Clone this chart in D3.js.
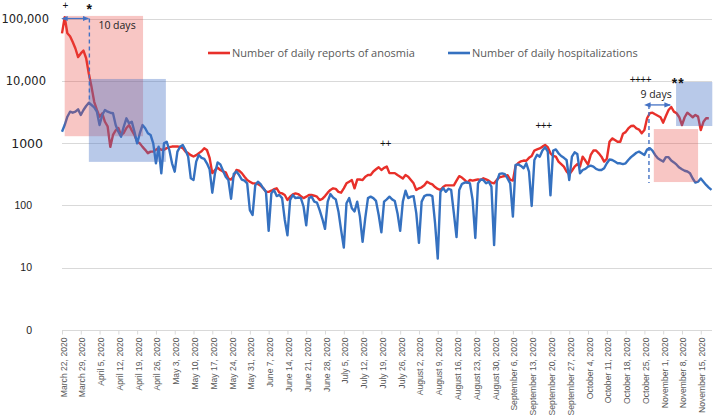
<!DOCTYPE html>
<html><head><meta charset="utf-8">
<script src="https://cdn.jsdelivr.net/npm/d3@7"></script>
<style>body{margin:0;background:#fff}svg{display:block}</style>
</head><body><svg id="c" width="714" height="417"></svg>
<script>
// ---------- DATA ----------
const startDate = "2020-03-22";           // first day of both series (daily values)
const anosmia = [
57800,105000,58000,52000,42000,33000,24000,27500,30500,23000,
13000,8000,4600,3400,2650,3000,2200,1850,870,1350,
1600,1750,1350,1450,1750,1950,1600,1350,1050,990,
870,780,690,730,730,780,830,780,780,830,
860,880,880,880,870,830,730,690,640,610,
640,690,740,825,775,580,330,370,405,370,
350,340,270,260,295,370,360,330,289,255,
240,226,226,220,207,188,165,165,172,182,
188,160,156,147,122,138,150,156,152,141,
131,138,147,147,143,138,122,127,141,160,
177,188,184,165,160,188,226,240,255,188,
260,260,255,289,307,307,350,380,410,370,
400,420,330,330,330,307,289,270,307,289,
255,226,177,188,195,210,240,226,217,197,
184,177,197,210,210,210,210,250,295,280,
256,232,256,250,256,262,256,272,262,250,
232,226,256,283,289,296,305,260,250,430,
480,510,525,520,580,620,760,790,820,877,
930,860,686,620,606,505,460,419,350,315,
360,419,460,419,606,525,450,645,760,760,
686,606,505,560,1050,1190,1120,1050,1050,1410,
1500,1720,1880,1900,1720,1650,1440,1620,2500,3010,
3080,2900,2750,2600,2130,2720,3400,3800,3200,3010,
2600,1950,2600,3080,2830,2600,2830,2660,1620,2200,
2500,2500
];
const hospitalizations = [
1520,1950,2650,3190,3075,3190,3480,2825,3400,3940,
4450,4090,3750,3190,1950,2825,3400,3190,3075,3010,
1950,1520,1270,1830,2500,2075,2210,1520,990,1440,
1950,1730,1440,1350,990,473,875,327,990,1054,
775,473,348,728,875,932,775,606,272,256,
504,644,580,560,473,380,160,330,490,455,
360,289,255,128,320,350,307,260,250,226,
84,70,210,240,220,188,165,39,156,177,
141,147,131,59,33,122,147,131,134,131,
96,48,131,138,115,111,84,61,42,115,
152,134,125,80,40,21,108,131,90,80,
115,66,26,63,131,138,131,118,70,37,
115,125,138,125,118,75,39,115,172,131,
138,141,75,25,115,141,147,147,141,52,
14,165,190,165,185,177,75,31,177,220,
232,235,226,122,30,226,260,256,226,240,
200,23,240,320,327,318,272,226,66,445,
455,430,395,473,350,98,536,650,606,760,
860,730,145,760,790,686,620,580,536,256,
606,710,670,327,370,385,419,435,419,385,
370,370,395,474,545,536,505,474,474,460,
474,536,595,645,700,730,686,645,790,830,
760,645,570,536,505,595,595,525,490,450,
405,380,360,350,327,270,232,240,270,240,
213,193,177
];
const seriesNames = ["Number of daily reports of anosmia", "Number of daily hospitalizations"];
const yTickValues = [1, 10, 100, 1000, 10000, 100000];
const yTickLabels = ["0", "10", "100", "1000", "10,000", "100,000"];
// shaded windows: day offsets from startDate and value bounds
const windowDays  = [[1, 30.2], [10, 38.7], [220.5, 237], [228.8, 242.3]];
const windowVals  = [[110000, 1290], [10700, 500], [1680, 237], [9570, 1880]];
const windowSeries = [0, 1, 0, 1];
// lag annotations: [fromDay, toDay], [value at arrow, value at dashed line bottom], label
const lagDays = [[1.5, 10.2], [218.7, 227]];
const lagVals = [[100000, 4900], [4100, 228]];
const lagLabels = ["10 days", "9 days"];
// significance markers: day offset, value position, text
const markDays = [1.2, 10.3, 120.5, 179.4, 215.5, 229.6];
const markVals = [142000, 120000, 850, 1715, 9060, 7700];
const markTexts = ["+", "*", "++", "+++", "++++", "**"];

// ---------- CHART ----------
const svg = d3.select("#c");
const parse = d3.utcParse("%Y-%m-%d");
const t0 = parse(startDate);
const day = i => new Date(t0.getTime() + i * 864e5);

const x = d3.scaleUtc().domain([t0, day(242)]).range([62, 711.5]);
const y = d3.scaleLog().domain([1, 100000]).range([330, 18.5]);
const colors = ["#E8302A", "#3571C0"];
const shade = ["#E9433B", "#4472C4"];

// gridlines
svg.append("g").selectAll("line").data(yTickValues).join("line")
  .attr("x1", 62).attr("x2", 712)
  .attr("y1", d => Math.round(y(d)) + 0.5).attr("y2", d => Math.round(y(d)) + 0.5)
  .attr("stroke", "#d9d9d9").attr("stroke-width", 1);

// y labels (as in original, sizes vary)
const ySizes = [10.5, 10.5, 10.5, 12.5, 11.5, 11.5];
const yRight = [32, 32, 32, 43, 46, 49];
const yFonts = ["Liberation Sans", "Liberation Sans", "Liberation Sans", "DejaVu Sans", "DejaVu Sans", "DejaVu Sans"];
svg.append("g").selectAll("text").data(yTickValues).join("text")
  .attr("x", (d, i) => yRight[i]).attr("y", d => y(d))
  .attr("dy", "0.36em").attr("text-anchor", "end")
  .style("font-family", (d, i) => yFonts[i]).style("font-size", (d, i) => ySizes[i] + "px")
  .attr("fill", "#222").text((d, i) => yTickLabels[i]);

// x axis
const weekTicks = d3.utcDay.range(t0, day(240), 1).filter((d, i) => i % 7 === 0);
const xAxis = d3.axisBottom(x).tickValues(weekTicks).tickSize(4).tickFormat(d3.utcFormat("%B %-d, %Y"));
const gx = svg.append("g").attr("transform", "translate(0,330.5)").call(xAxis);
gx.select(".domain").attr("stroke", "#d9d9d9").attr("d", "M62,0H712");
gx.selectAll(".tick line").attr("stroke", "#d9d9d9");
gx.selectAll(".tick text")
  .attr("transform", "rotate(-90)")
  .attr("x", -7).attr("y", 1).attr("dy", "0.35em")
  .attr("text-anchor", "end")
  .style("font-family", "Liberation Sans").style("font-size", "8.6px")
  .attr("fill", "#595959");

// lines
const series = [anosmia, hospitalizations];
const line = d3.line().x((d, i) => x(day(i))).y(d => y(d));
series.forEach((s, k) => {
  svg.append("path").datum(s).attr("d", line)
    .attr("fill", "none").attr("stroke", colors[k]).attr("stroke-width", 2.4)
    .attr("stroke-linejoin", "round");
});

// shaded windows (on top, translucent)
windowDays.forEach((wd, i) => {
  const xa = x(day(wd[0])), xb = x(day(wd[1]));
  const ya = y(windowVals[i][0]), yb = y(windowVals[i][1]);
  svg.append("rect").attr("x", xa).attr("y", ya).attr("width", xb - xa).attr("height", yb - ya)
    .attr("fill", shade[windowSeries[i]]).attr("fill-opacity", windowSeries[i] ? 0.38 : 0.3);
});

// arrow markers
const defs = svg.append("defs");
["s", "e"].forEach(k => {
  defs.append("marker").attr("id", "ar" + k).attr("viewBox", "0 0 10 10")
    .attr("refX", k === "e" ? 9 : 1).attr("refY", 5).attr("markerWidth", 5).attr("markerHeight", 5)
    .attr("orient", "auto-start-reverse")
    .append("path").attr("d", "M0,1L10,5L0,9Z").attr("fill", "#4472C4");
});
lagDays.forEach((ld, i) => {
  const xa = x(day(ld[0])), xb = x(day(ld[1]));
  const ya = y(lagVals[i][0]), yb = y(lagVals[i][1]);
  const xd = i === 0 ? xb : xa;
  svg.append("line").attr("x1", xd).attr("x2", xd).attr("y1", ya).attr("y2", yb)
    .attr("stroke", "#4472C4").attr("stroke-width", 1.4).attr("stroke-dasharray", "4,3");
  svg.append("line").attr("x1", xa + 1).attr("x2", xb - 1).attr("y1", ya).attr("y2", ya)
    .attr("stroke", "#4472C4").attr("stroke-width", 1.3)
    .attr("marker-start", "url(#ars)").attr("marker-end", "url(#are)");
  svg.append("text")
    .attr("x", i === 0 ? xb + 9 : (xa + xb) / 2 - 4).attr("y", i === 0 ? ya + 10 : ya - 7)
    .attr("text-anchor", i === 0 ? "start" : "middle")
    .style("font-family", "Open Sans").style("font-size", "10.5px").attr("fill", "#222")
    .text(lagLabels[i]);
});

// markers
markTexts.forEach((t, i) => {
  const bold = t.includes("*");
  svg.append("text").attr("x", x(day(markDays[i]))).attr("y", y(markVals[i]))
    .attr("text-anchor", "middle")
    .style("font-family", "Liberation Sans").style("font-size", bold ? "14px" : "10px")
    .style("font-weight", bold ? "bold" : "normal").attr("fill", "#111")
    .attr("letter-spacing", bold ? "1px" : "-0.5px")
    .text(t);
});

// legend
const legX = [208, 448];
seriesNames.forEach((n, k) => {
  svg.append("line").attr("x1", legX[k]).attr("x2", legX[k] + 22).attr("y1", 53).attr("y2", 53)
    .attr("stroke", colors[k]).attr("stroke-width", 2.6);
  svg.append("text").attr("x", legX[k] + 24).attr("y", 53).attr("dy", "0.35em")
    .style("font-family", "Open Sans").style("font-size", "11px").attr("fill", "#595959").text(n);
});
</script></body></html>
